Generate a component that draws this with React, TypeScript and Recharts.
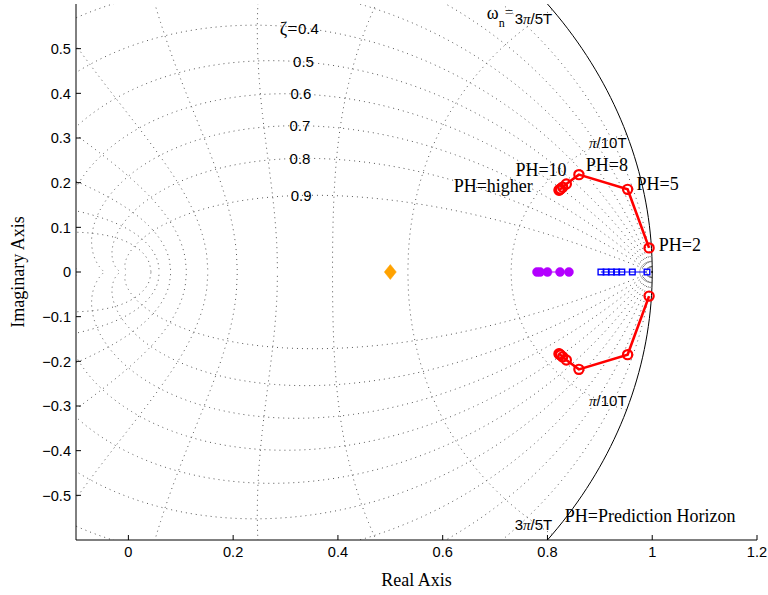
import React from 'react';
import { ComposedChart, Line, Scatter, XAxis, YAxis, Label } from 'recharts';

const SANS = "'Liberation Sans', Arial, Helvetica, sans-serif";
const SERIF = "'Liberation Serif', 'Times New Roman', Times, serif";

// Axis ticks
const xTicks = [0, 0.2, 0.4, 0.6, 0.8, 1, 1.2];
const xTickLabels = ['0', '0.2', '0.4', '0.6', '0.8', '1', '1.2'];
const yTicks = [-0.5, -0.4, -0.3, -0.2, -0.1, 0, 0.1, 0.2, 0.3, 0.4, 0.5];
const yTickLabels = ['\u22120.5', '\u22120.4', '\u22120.3', '\u22120.2', '\u22120.1', '0', '0.1', '0.2', '0.3', '0.4', '0.5'];

// z-plane grid: damping ratios and natural frequencies (multiples of pi/T)
const gridZeta = [0.1, 0.2, 0.3, 0.4, 0.5, 0.6, 0.7, 0.8, 0.9];
const gridWn = [0.1, 0.2, 0.3, 0.4, 0.5, 0.6, 0.7, 0.8, 0.9, 1.0];
const fineWn = [0.012, 0.024];
const labeledZeta = [0.4, 0.5, 0.6, 0.7, 0.8, 0.9];
const zetaLabelText = ['0.4', '0.5', '0.6', '0.7', '0.8', '0.9'];
const zetaLabelAt = 1.1;
const wnLabelIndex = [0.1, 0.2];
const wnLabelText = ['/10T', '/5T'];
const wnLabelLead = ['', '3'];

// Closed-loop poles for increasing prediction horizon (upper half; lower is the conjugate)
const phPoleRe = [0.994, 0.953, 0.86, 0.836, 0.829, 0.825, 0.823, 0.822];
const phPoleIm = [0.054, 0.185, 0.218, 0.197, 0.19, 0.186, 0.184, 0.183];

// Other pole sets on the real axis
const violetRe = [0.78, 0.786, 0.8, 0.824, 0.841];
const blueRe = [0.902, 0.912, 0.922, 0.932, 0.942, 0.962, 0.99];
const diamondRe = [0.5];

// Annotation texts and anchor points
const phText = ['PH=2', 'PH=5', 'PH=8', 'PH=10', 'PH=higher', 'PH=Prediction Horizon'];
const phTextX = [1.0126, 0.97, 0.8733, 0.8365, 0.7721, 0.8332];
const phTextY = [0.0465, 0.1846, 0.2255, 0.2143, 0.1785, -0.5597];
const phTextAnchor = ['start', 'start', 'start', 'end', 'end', 'start'];

type Pt = { x: number; y: number; [k: string]: any };

// point exp(s) for s = -zeta*wn + j*wn*sqrt(1-zeta^2)
const zPoint = (zeta: number, wn: number, sign: number): Pt => {
  const r = Math.exp(-zeta * wn);
  const th = wn * Math.sqrt(1 - zeta * zeta);
  return { x: r * Math.cos(th), y: sign * r * Math.sin(th) };
};

// constant-damping spiral, swept by angle from 0 to pi
const zetaCurve = (zeta: number, sign: number): Pt[] => {
  const pts: Pt[] = [];
  const m = zeta / Math.sqrt(1 - zeta * zeta);
  const n = 300;
  for (let i = 0; i <= n; i++) {
    const th = (Math.PI * i) / n;
    const r = Math.exp(-m * th);
    pts.push({ x: r * Math.cos(th), y: sign * r * Math.sin(th) });
  }
  return pts;
};

// constant natural-frequency curve, swept by damping from 0 to 1
const wnCurve = (wn: number, sign: number): Pt[] => {
  const pts: Pt[] = [];
  const n = 120;
  for (let i = 0; i <= n; i++) pts.push(zPoint(i / n, wn, sign));
  return pts;
};

const unitCircle: Pt[] = [];
for (let i = 0; i <= 360; i++) {
  const a = -Math.PI + (2 * Math.PI * i) / 360;
  unitCircle.push({ x: Math.cos(a), y: Math.sin(a) });
}

const gridLines: { key: string; pts: Pt[] }[] = [];
gridZeta.forEach((z) => [1, -1].forEach((s) => gridLines.push({ key: `z${z}_${s}`, pts: zetaCurve(z, s) })));
gridWn.forEach((w) => [1, -1].forEach((s) => gridLines.push({ key: `w${w}_${s}`, pts: wnCurve(w * Math.PI, s) })));
const fineLines: { key: string; pts: Pt[] }[] = [];
fineWn.forEach((w) => [1, -1].forEach((s) => fineLines.push({ key: `f${w}_${s}`, pts: wnCurve(w, s) })));

const zetaLabels: Pt[] = labeledZeta.map((z, i) => ({
  ...zPoint(z, zetaLabelAt, 1),
  label: zetaLabelText[i],
  prefix: i === 0,
}));

const wnLabels: Pt[] = [];
wnLabelIndex.forEach((w, i) => {
  [1, -1].forEach((s) => {
    const p = zPoint(0, w * Math.PI, s);
    wnLabels.push({ ...p, lead: wnLabelLead[i], tail: wnLabelText[i], sign: s, omega: s > 0 && i === 1 });
  });
});

const phUpper: Pt[] = phPoleRe.map((x, i) => ({ x, y: phPoleIm[i] }));
const phLower: Pt[] = phPoleRe.map((x, i) => ({ x, y: -phPoleIm[i] }));
const violetPts: Pt[] = violetRe.map((x) => ({ x, y: 0 }));
const bluePts: Pt[] = blueRe.map((x) => ({ x, y: 0 }));
const diamondPts: Pt[] = diamondRe.map((x) => ({ x, y: 0 }));
const phLabels: Pt[] = phText.map((t, i) => ({ x: phTextX[i], y: phTextY[i], text: t, anchor: phTextAnchor[i] }));

const RED = '#ff0000';
const VIOLET = '#b300ff';
const BLUE = '#0000ff';
const ORANGE = '#ffa200';

const ZetaText = (p: any) => {
  const { cx, cy, payload } = p;
  return (
    <g>
      <text x={cx} y={cy} dy="0.36em" textAnchor="middle" fontFamily={SANS} fontSize={15} fill="#000">
        {payload.label}
      </text>
      {payload.prefix ? (
        <text x={cx - 11} y={cy} dy="0.36em" textAnchor="end" fontFamily={SERIF} fontSize={18} fill="#000">
          ζ=
        </text>
      ) : null}
    </g>
  );
};

const WnText = (p: any) => {
  const { cx, cy, payload } = p;
  const y = payload.sign > 0 ? cy + 14.5 : cy - 4.5;
  return (
    <g>
      <text x={cx} y={y} textAnchor="end" fontFamily={SANS} fontSize={15} fill="#000">
        {payload.lead}
        <tspan fontFamily={SERIF} fontStyle="italic">π</tspan>
        {payload.tail}
      </text>
      {payload.omega ? (
        <text x={cx - 39} y={y} textAnchor="end" fontFamily={SERIF} fontSize={18} fill="#000">
          <tspan dy={-5}>ω</tspan>
          <tspan fontSize={12} dy={8}>n</tspan>
          <tspan fontSize={15} dy={-10}>=</tspan>
        </text>
      ) : null}
    </g>
  );
};

const PhText = (p: any) => {
  const { cx, cy, payload } = p;
  return (
    <text x={cx} y={cy} textAnchor={payload.anchor} fontFamily={SERIF} fontSize={18} fill="#000">
      {payload.text}
    </text>
  );
};

const RingDot = (p: any) => {
  const { cx, cy } = p;
  if (cx == null || cy == null) return <g />;
  return <circle cx={cx} cy={cy} r={4.6} fill="none" stroke={RED} strokeWidth={2.2} />;
};

const SquareDot = (p: any) => {
  const { cx, cy } = p;
  if (cx == null || cy == null) return <g />;
  return <rect x={cx - 2.8} y={cy - 2.8} width={5.6} height={5.6} fill="none" stroke={BLUE} strokeWidth={1.4} />;
};

const DiscDot = (p: any) => {
  const { cx, cy } = p;
  if (cx == null || cy == null) return <g />;
  return <circle cx={cx} cy={cy} r={4.5} fill={VIOLET} stroke={VIOLET} strokeWidth={0.5} />;
};

const Diamond = (p: any) => {
  const { cx, cy } = p;
  return <polygon points={`${cx},${cy - 7.5} ${cx + 6},${cy} ${cx},${cy + 7.5} ${cx - 6},${cy}`} fill={ORANGE} stroke={ORANGE} strokeWidth={0.5} />;
};

const tickStyle = { fill: '#000', fontSize: 14.6, fontFamily: SANS };

export default function App() {
  return (
    <div style={{ position: 'absolute', left: 0, top: 0, background: '#fff' }}>
      <ComposedChart width={768} height={595} margin={{ top: 4, right: 11, left: 0, bottom: 0 }}>
        <XAxis
          xAxisId={0}
          dataKey="x"
          type="number"
          domain={[-0.1, 1.2]}
          allowDataOverflow
          ticks={xTicks}
          interval={0}
          tickSize={-5}
          tickMargin={12}
          height={55}
          stroke="#000"
          tick={tickStyle}
          tickFormatter={(v: number) => xTickLabels[xTicks.indexOf(v)] ?? String(v)}
        >
          <Label
            content={(props: any) => {
              const vb = props.viewBox || { x: 76, y: 540, width: 681 };
              return (
                <text x={vb.x + vb.width / 2} y={vb.y + 46} textAnchor="middle" fontFamily={SERIF} fontSize={18} fill="#000">
                  Real Axis
                </text>
              );
            }}
          />
        </XAxis>
        <XAxis
          xAxisId="top"
          orientation="top"
          dataKey="x"
          type="number"
          domain={[-0.1, 1.2]}
          allowDataOverflow
          ticks={xTicks}
          interval={0}
          tickSize={-5}
          height={0}
          stroke="#000"
          tick={tickStyle}
          tickFormatter={() => ''}
        />
        <YAxis
          yAxisId={0}
          dataKey="y"
          type="number"
          domain={[-0.6, 0.6]}
          allowDataOverflow
          ticks={yTicks}
          interval={0}
          tickSize={-5}
          tickMargin={10}
          width={76}
          stroke="#000"
          tick={tickStyle}
          tickFormatter={(v: number) => yTickLabels[yTicks.indexOf(v)] ?? String(v)}
        >
          <Label
            content={() => (
              <text x={24} y={272} transform="rotate(-90 24 272)" textAnchor="middle" fontFamily={SERIF} fontSize={18} fill="#000">
                Imaginary Axis
              </text>
            )}
          />
        </YAxis>
        <YAxis
          yAxisId="right"
          orientation="right"
          dataKey="y"
          type="number"
          domain={[-0.6, 0.6]}
          allowDataOverflow
          ticks={yTicks}
          interval={0}
          tickSize={-5}
          width={0}
          stroke="#000"
          tick={tickStyle}
          tickFormatter={() => ''}
        />

        {gridLines.map((g) => (
          <Line
            key={g.key}
            data={g.pts}
            dataKey="y"
            type="linear"
            stroke="#555"
            strokeWidth={1}
            strokeDasharray="1 4"
            dot={false}
            activeDot={false}
            legendType="none"
            isAnimationActive={false}
          />
        ))}
        {fineLines.map((g) => (
          <Line
            key={g.key}
            data={g.pts}
            dataKey="y"
            type="linear"
            stroke="#888"
            strokeWidth={0.8}
            dot={false}
            activeDot={false}
            legendType="none"
            isAnimationActive={false}
          />
        ))}
        <Line data={unitCircle} dataKey="y" type="linear" stroke="#000" strokeWidth={1} dot={false} activeDot={false} legendType="none" isAnimationActive={false} />

        <Scatter data={zetaLabels} dataKey="y" shape={ZetaText} isAnimationActive={false} legendType="none" />
        <Scatter data={wnLabels} dataKey="y" shape={WnText} isAnimationActive={false} legendType="none" />

        <Line data={violetPts} dataKey="y" type="linear" stroke={VIOLET} strokeWidth={1} dot={DiscDot} activeDot={false} legendType="none" isAnimationActive={false} />
        <Line data={bluePts} dataKey="y" type="linear" stroke={BLUE} strokeWidth={1.2} dot={SquareDot} activeDot={false} legendType="none" isAnimationActive={false} />
        <Scatter data={diamondPts} dataKey="y" shape={Diamond} isAnimationActive={false} legendType="none" />
        <Line data={phUpper} dataKey="y" type="linear" stroke={RED} strokeWidth={2.6} dot={RingDot} activeDot={false} legendType="none" isAnimationActive={false} />
        <Line data={phLower} dataKey="y" type="linear" stroke={RED} strokeWidth={2.6} dot={RingDot} activeDot={false} legendType="none" isAnimationActive={false} />

        <Scatter data={phLabels} dataKey="y" shape={PhText} isAnimationActive={false} legendType="none" />
      </ComposedChart>
    </div>
  );
}
